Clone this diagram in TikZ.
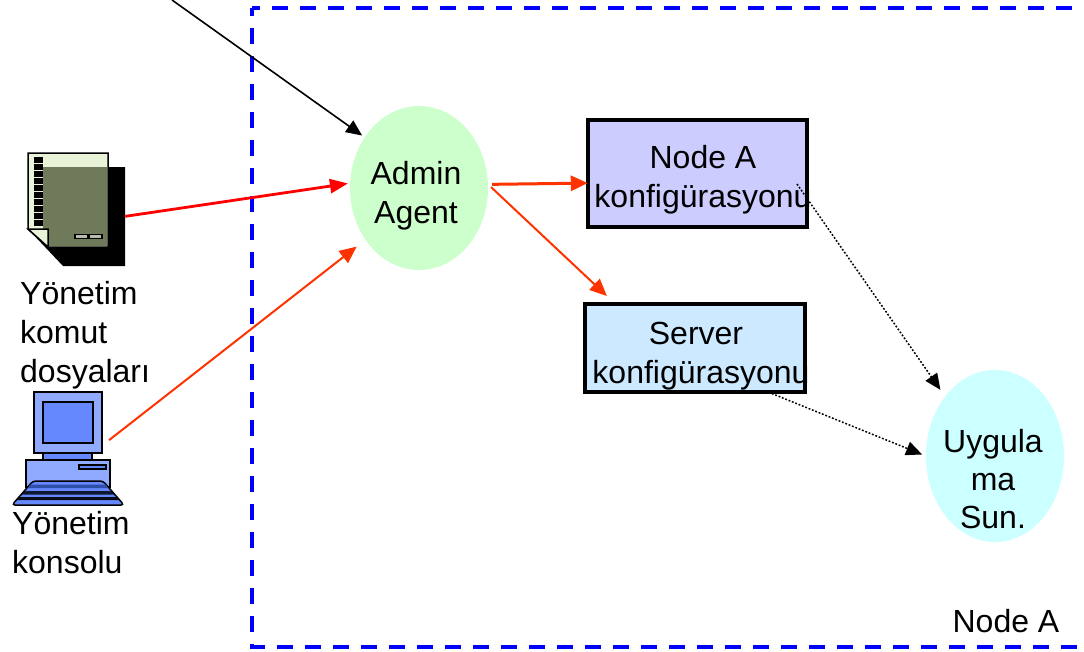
\documentclass[tikz,border=0pt]{standalone}
\usepackage{fontspec}
\setmainfont{Liberation Sans}
\usetikzlibrary{arrows.meta,shapes.geometric}
\definecolor{oran}{HTML}{FF3300}
\definecolor{bluefr}{HTML}{0000FF}
\definecolor{agentg}{HTML}{CCFFCC}
\definecolor{appc}{HTML}{CCFFFF}
\definecolor{nodep}{HTML}{CCCCFF}
\definecolor{servb}{HTML}{CCE9FF}
\definecolor{pagec}{HTML}{E8F3D8}
\definecolor{olive}{HTML}{6F7A5A}
\definecolor{monl}{HTML}{8FAAFF}
\definecolor{mond}{HTML}{6688FF}
\definecolor{keyd}{HTML}{2F4FA8}
\tikzset{
  x=1pt,y=-1pt,
  txt/.style={font=\fontsize{32}{39}\selectfont,inner sep=0pt,align=center,text=black},
  txtl/.style={font=\fontsize{32}{39}\selectfont,inner sep=0pt,align=left,anchor=north west,text=black},
  blob/.style={ellipse,draw=none,inner sep=0pt,minimum width=138pt},
  boxfill/.style={rectangle,draw=none,inner sep=0pt},
  boxline/.style={draw=black,line width=3.6pt},
  hotarrow/.style={-{Triangle[length=17pt,width=15pt]},draw=oran,line width=2pt},
  hotthick/.style={hotarrow,line width=3pt},
  redarrow/.style={-{Triangle[length=18pt,width=14pt]},draw=red,line width=2.8pt},
  blackarrow/.style={-{Triangle[length=16pt,width=14pt]},draw=black,line width=1.6pt},
  dotarrow/.style={-{Triangle[length=16pt,width=14pt]},draw=black,line width=1.5pt,dash pattern=on 1.8pt off 1.8pt},
  ghost/.style={rectangle,draw=none,inner sep=0pt},
  ic/.style={draw=black,line width=1.5pt},
  frameline/.style={draw=bluefr,line width=4pt,dash pattern=on 16pt off 12pt,dash phase=8pt},
}
\begin{document}
\begin{tikzpicture}
\useasboundingbox (0,0) rectangle (1084,651);
\fill[white] (0,0) rectangle (1084,651);
% frame
\draw[frameline] (252,8) -- (1084,8);
\draw[frameline] (252,8) -- (252,647) -- (1084,647);
% document icon
\fill[black] (108,167) -- (125,167) -- (125,266) -- (63,266) -- (28,229) -- (108,229) -- cycle;
\filldraw[ic,fill=pagec] (28,153) -- (108,153) -- (108,247) -- (48,247) -- (28,229) -- cycle;
\fill[olive] (43,167) -- (43,229) -- (48,229) -- (48,246) -- (107,246) -- (107,167) -- cycle;
\filldraw[ic,fill=pagec] (28,229) -- (48,229) -- (48,247) -- cycle;
\foreach \yy in {157,164,171,178,185,192,199,206,213,220}{
  \fill[black] (34,\yy) rectangle (43,\yy+6);
}
\filldraw[ic,fill=olive!50!white] (75,234.5) rectangle (88,238.5);
\filldraw[ic,fill=olive!50!white] (89,234.5) rectangle (102,238.5);
\node[ghost,minimum width=97pt,minimum height=113pt] (doc) at (76.5,209.5) {};
% computer icon
\fill[mond] (43,452) rectangle (92,462);
\draw[ic,line width=2pt] (43,452) -- (43,461) (92,452) -- (92,461);
\filldraw[ic,fill=monl] (26,460) -- (110,460) -- (110,487) -- (26,487) -- cycle;
\filldraw[ic,fill=mond] (79,465) rectangle (106,469);
\node[rectangle,draw=black,line width=1.5pt,fill=monl,inner sep=0pt,minimum width=68pt,minimum height=61pt] (pc) at (68,422.5) {};
\filldraw[ic,fill=mond] (43,402) rectangle (93,443);
\filldraw[ic,fill=mond,rounded corners=3pt] (33,481) -- (103,481) -- (124,505) -- (12,505) -- cycle;
\fill[keyd] (30,484.5) -- (106,484.5) -- (108,488) -- (28,488) -- cycle;
\fill[black!70!keyd] (25,491) -- (111,491) -- (114,494.5) -- (22,494.5) -- cycle;
\fill[black!85!keyd] (19,497) -- (117,497) -- (120,500) -- (17,500) -- cycle;
% admin
\node[blob,fill=agentg,minimum height=164pt] (admin) at (419,188) {};
\node[txt] (admintxt) at (416,196) {Admin\\Agent};
% node A config
\node[boxfill,fill=nodep,minimum width=219pt,minimum height=107pt] (nodea) at (697.5,173.5) {};
\node[txt] (nodeatxt) at (703,180) {Node A\\konfigürasyonu};
\draw[boxline] (nodea.north west) rectangle (nodea.south east);
% server config
\node[boxfill,fill=servb,minimum width=220pt,minimum height=88pt] (server) at (695,348) {};
\node[txt] (servertxt) at (701,356) {Server\hspace*{10pt}\\konfigürasyonu};
\draw[boxline] (server.north west) rectangle (server.south east);
% app
\node[blob,fill=appc,minimum height=172pt] (app) at (995,456) {};
\node[txt,font=\fontsize{32}{38}\selectfont] (apptxt) at (993,479) {Uygula\\ma\\Sun.};
% labels
\node[txtl] (cmdl) at (20,281) {Yönetim\\komut\\dosyaları};
\node[txtl] (conl) at (12,511) {Yönetim\\konsolu};
\node[txt] (nodel) at (1006,621) {Node A};
% connectors
\coordinate (incoming) at (172,0);
\coordinate (dotstart) at (797,184);
\draw[blackarrow,shorten >=3pt] (incoming) -- (admin.137);
\draw[redarrow,shorten >=2pt] (doc.-8) -- (admin.176);
\draw[hotarrow,shorten <=8pt,shorten >=11pt] (pc.-33) -- (admin.224);
\draw[hotthick,shorten <=4pt] (admin.3) -- (nodea.185.8);
\draw[hotarrow,shorten <=4pt,shorten >=11.5pt] (admin.3) -- (server.151.7);
\draw[dotarrow,shorten >=8pt] (dotstart) -- (app.130);
\draw[dotarrow,shorten >=4pt] (server.-31) -- (app.180);
\end{tikzpicture}
\end{document}
